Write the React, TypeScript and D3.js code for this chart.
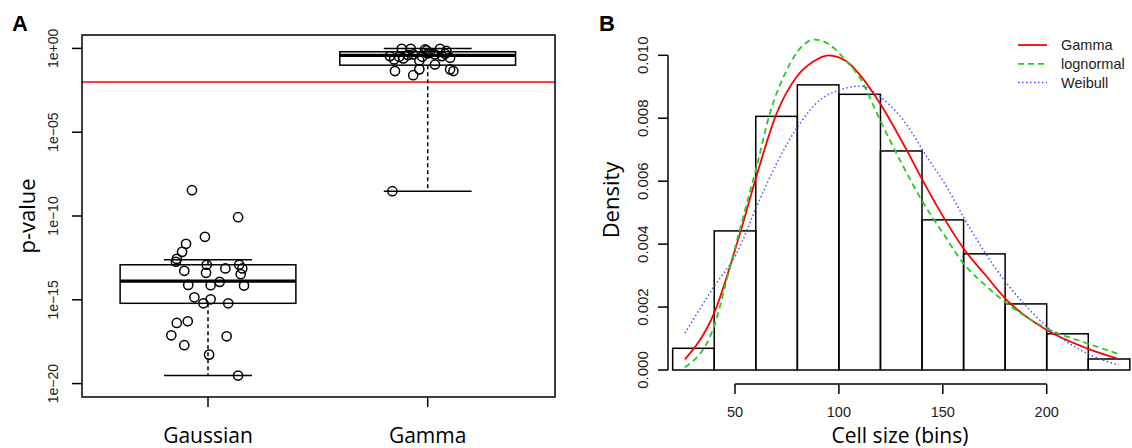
import React from "react";
import * as d3 from "d3";

// ---------- Panel A data ----------
const categories = ["Gaussian", "Gamma"];
// log10(p-value) summaries per category
const boxLowerWhisker = [-19.52, -8.52];
const boxQ1 = [-15.21, -1.0];
const boxMedian = [-13.89, -0.42];
const boxQ3 = [-12.91, -0.2];
const boxUpperWhisker = [-12.61, 0];
const thresholdP = 0.01;

const gaussianLogP = [
  -8.46, -10.07, -11.24, -11.66, -12.14, -12.56, -12.73, -12.91, -12.91, -13.27,
  -13.39, -13.13, -13.13, -13.47, -14.11, -14.13, -13.93, -14.15, -14.85, -14.97,
  -15.21, -15.21, -16.38, -16.28, -17.12, -17.18, -17.71, -18.27, -19.52,
];
const gaussianJitter = [
  -0.073, 0.137, -0.014, -0.1, -0.118, -0.142, -0.146, -0.006, 0.142, -0.108,
  -0.009, 0.079, 0.156, 0.149, -0.09, 0.012, 0.053, 0.164, -0.062, 0.012,
  -0.021, 0.092, -0.142, -0.092, -0.167, 0.085, -0.108, 0.005, 0.137,
];
const gammaLogP = [
  -0.02, -0.02, -0.06, -0.02, -0.46, -0.66, -0.6, -0.36, -0.72, -0.26,
  -0.36, -0.32, -0.56, -0.96, -1.35, -1.25, -1.6, -1.25, -1.35, -0.12,
  -0.46, -8.52, -0.4, -0.5, -0.3, -0.15, -0.5,
];
const gammaJitter = [
  -0.118, -0.077, -0.012, 0.056, -0.172, -0.153, -0.111, -0.066, -0.038, 0.01,
  0.033, 0.079, 0.102, 0.033, -0.149, -0.038, -0.066, 0.102, 0.117, -0.005,
  0.064, -0.161, -0.09, -0.025, 0.0, 0.085, -0.13,
];
const pTicks = [0, -5, -10, -15, -20];
const pTickLabels = ["1e+00", "1e\u221205", "1e\u221210", "1e\u221215", "1e\u221220"];

// ---------- Panel B data ----------
const binEdges = [20, 40, 60, 80, 100, 120, 140, 160, 180, 200, 220, 240];
const binDensity = [0.00069, 0.00442, 0.00806, 0.00906, 0.00876, 0.00696, 0.00477, 0.00369, 0.0021, 0.00115, 0.00035];
const xTicksB = [50, 100, 150, 200];
const yTicksB = [0, 0.002, 0.004, 0.006, 0.008, 0.01];
const yTickLabelsB = ["0.000", "0.002", "0.004", "0.006", "0.008", "0.010"];

const gammaCurveX = [25.9, 39.9, 52.4, 59.8, 70.1, 79.7, 87.7, 94.9, 103.8, 110.2, 119.8, 132.6, 139.8, 151.1, 159.9, 171.1, 180.8, 200, 219.3, 233.7];
const gammaCurveY = [0.00034, 0.0018, 0.00434, 0.00604, 0.00816, 0.00932, 0.0098, 0.01, 0.0098, 0.00937, 0.00847, 0.00699, 0.00609, 0.00477, 0.00387, 0.00297, 0.00222, 0.00127, 0.00069, 0.00037];
const lognormCurveX = [25.9, 39.9, 47.6, 54, 60.4, 66.8, 74.9, 82.9, 88.5, 95.7, 103.8, 110.2, 119.8, 129.4, 139.8, 150.2, 159.9, 169.5, 180.8, 200, 219.3, 234.5];
const lognormCurveY = [0.00009, 0.00138, 0.00328, 0.00487, 0.00646, 0.00816, 0.00953, 0.01033, 0.0105, 0.01033, 0.0098, 0.00927, 0.00794, 0.00667, 0.0054, 0.00434, 0.00339, 0.00275, 0.00212, 0.00132, 0.00085, 0.00051];
const weibullCurveX = [25.9, 39.9, 50.8, 60.4, 70.1, 81.3, 90.9, 100.5, 110.2, 119.8, 131, 142.3, 151.9, 159.9, 169.5, 180.8, 190.4, 200, 219.3, 234.5];
const weibullCurveY = [0.00117, 0.00265, 0.00371, 0.00519, 0.00657, 0.00784, 0.00858, 0.0089, 0.00902, 0.00868, 0.00794, 0.00678, 0.00582, 0.00487, 0.00381, 0.00275, 0.00201, 0.00138, 0.00053, 0.00016];
const legendNames = ["Gamma", "lognormal", "Weibull"];

const AXIS_FONT = "'Liberation Sans', Arial, sans-serif";
const TITLE_FONT = "'Open Sans', 'Noto Sans', sans-serif";

export default function App() {
  // Panel A scales
  const frameA = { left: 82, right: 555, top: 35, bottom: 397 };
  const xA = d3.scaleLinear().domain([1, 2]).range([208, 427.7]);
  const yA = d3.scaleLinear().domain([-20.8, 0.8]).range([frameA.bottom, frameA.top]);
  const boxHalf = 0.4;
  const capHalf = 0.2;

  // Panel B scales
  const xB = d3.scaleLinear().domain([50, 200]).range([735, 1046.7]);
  const yB = d3.scaleLinear().domain([0, 0.01]).range([370, 55.3]);
  const axisXB = 668;
  const axisYB = 384;

  const line = d3
    .line<[number, number]>()
    .x((d) => xB(d[0]))
    .y((d) => yB(d[1]))
    .curve(d3.curveMonotoneX);

  const curves = [
    { name: legendNames[0], xs: gammaCurveX, ys: gammaCurveY, color: "#ff0000", dash: "none", w: 1.8 },
    { name: legendNames[1], xs: lognormCurveX, ys: lognormCurveY, color: "#22cc22", dash: "6,4", w: 1.8 },
    { name: legendNames[2], xs: weibullCurveX, ys: weibullCurveY, color: "#4d4dff", dash: "1.5,2.5", w: 1.5 },
  ];

  const points = [
    { logp: gaussianLogP, jit: gaussianJitter },
    { logp: gammaLogP, jit: gammaJitter },
  ];

  return (
    <svg
      width={1132}
      height={448}
      style={{ position: "absolute", left: 0, top: 0, background: "#fff" }}
    >
      <rect width={1132} height={448} fill="#fff" />
      {/* Panel labels */}
      <text x={12} y={31} fontFamily={AXIS_FONT} fontWeight="bold" fontSize={22}>A</text>
      <text x={599} y={31} fontFamily={AXIS_FONT} fontWeight="bold" fontSize={22}>B</text>

      {/* ---------- Panel A ---------- */}
      <line x1={frameA.left} x2={frameA.right} y1={yA(Math.log10(thresholdP))} y2={yA(Math.log10(thresholdP))} stroke="#ff0000" strokeWidth={1.5} />
      {categories.map((c, i) => {
        const cx = i + 1;
        return (
          <g key={c}>
            {/* dashed whiskers */}
            <line x1={xA(cx)} x2={xA(cx)} y1={yA(boxQ1[i])} y2={yA(boxLowerWhisker[i])} stroke="#000" strokeWidth={1.5} strokeDasharray="4,3" />
            <line x1={xA(cx)} x2={xA(cx)} y1={yA(boxQ3[i])} y2={yA(boxUpperWhisker[i])} stroke="#000" strokeWidth={1.5} strokeDasharray="4,3" />
            <line x1={xA(cx - capHalf)} x2={xA(cx + capHalf)} y1={yA(boxLowerWhisker[i])} y2={yA(boxLowerWhisker[i])} stroke="#000" strokeWidth={1.5} />
            <line x1={xA(cx - capHalf)} x2={xA(cx + capHalf)} y1={yA(boxUpperWhisker[i])} y2={yA(boxUpperWhisker[i])} stroke="#000" strokeWidth={1.5} />
            <rect
              x={xA(cx - boxHalf)}
              y={yA(boxQ3[i])}
              width={xA(cx + boxHalf) - xA(cx - boxHalf)}
              height={yA(boxQ1[i]) - yA(boxQ3[i])}
              fill="none"
              stroke="#000"
              strokeWidth={1.5}
            />
            <line x1={xA(cx - boxHalf)} x2={xA(cx + boxHalf)} y1={yA(boxMedian[i])} y2={yA(boxMedian[i])} stroke="#000" strokeWidth={3.2} />
            {points[i].logp.map((v, j) => (
              <circle key={j} cx={xA(cx + points[i].jit[j])} cy={yA(v)} r={4.6} fill="none" stroke="#000" strokeWidth={1.5} />
            ))}
            {/* x tick + label */}
            <line x1={xA(cx)} x2={xA(cx)} y1={frameA.bottom} y2={frameA.bottom + 10} stroke="#000" strokeWidth={1.5} />
            <text x={xA(cx)} y={443} textAnchor="middle" fontFamily={TITLE_FONT} fontSize={21}>{c}</text>
          </g>
        );
      })}
      <rect x={frameA.left} y={frameA.top} width={frameA.right - frameA.left} height={frameA.bottom - frameA.top} fill="none" stroke="#000" strokeWidth={1.5} />
      {pTicks.map((t, i) => (
        <g key={t}>
          <line x1={frameA.left - 10} x2={frameA.left} y1={yA(t)} y2={yA(t)} stroke="#000" strokeWidth={1.5} />
          <text
            transform={`translate(${58},${yA(t)}) rotate(-90)`}
            textAnchor="middle"
            fontFamily={AXIS_FONT}
            fontSize={14}
            fill="#222"
          >
            {pTickLabels[i]}
          </text>
        </g>
      ))}
      <text transform={`translate(${35},${216}) rotate(-90)`} textAnchor="middle" fontFamily={TITLE_FONT} fontSize={22}>p-value</text>

      {/* ---------- Panel B ---------- */}
      {binDensity.map((d, i) => (
        <rect
          key={i}
          x={xB(binEdges[i])}
          y={yB(d)}
          width={xB(binEdges[i + 1]) - xB(binEdges[i])}
          height={yB(0) - yB(d)}
          fill="none"
          stroke="#000"
          strokeWidth={1.5}
        />
      ))}
      {curves.map((c) => (
        <path
          key={c.name}
          d={line(c.xs.map((x, i) => [x, c.ys[i]] as [number, number])) || ""}
          fill="none"
          stroke={c.color}
          strokeWidth={c.w}
          strokeDasharray={c.dash}
        />
      ))}
      {/* y axis */}
      <line x1={axisXB} x2={axisXB} y1={yB(0)} y2={yB(0.01)} stroke="#000" strokeWidth={1.5} />
      {yTicksB.map((t, i) => (
        <g key={t}>
          <line x1={axisXB - 10} x2={axisXB} y1={yB(t)} y2={yB(t)} stroke="#000" strokeWidth={1.5} />
          <text
            transform={`translate(${648},${yB(t)}) rotate(-90)`}
            textAnchor="middle"
            fontFamily={AXIS_FONT}
            fontSize={15}
            fill="#222"
          >
            {yTickLabelsB[i]}
          </text>
        </g>
      ))}
      <text transform={`translate(${619},${200}) rotate(-90)`} textAnchor="middle" fontFamily={TITLE_FONT} fontSize={22}>Density</text>
      {/* x axis */}
      <line x1={xB(50)} x2={xB(200)} y1={axisYB} y2={axisYB} stroke="#000" strokeWidth={1.5} />
      {xTicksB.map((t) => (
        <g key={t}>
          <line x1={xB(t)} x2={xB(t)} y1={axisYB} y2={axisYB + 10} stroke="#000" strokeWidth={1.5} />
          <text x={xB(t)} y={417} textAnchor="middle" fontFamily={AXIS_FONT} fontSize={14.5} fill="#222">{t}</text>
        </g>
      ))}
      <text x={900} y={443} textAnchor="middle" fontFamily={TITLE_FONT} fontSize={21}>Cell size (bins)</text>

      {/* legend */}
      {curves.map((c, i) => {
        const ly = 45 + i * 18.8;
        return (
          <g key={c.name}>
            <line x1={1018} x2={1047} y1={ly} y2={ly} stroke={c.color} strokeWidth={c.w} strokeDasharray={c.dash} />
            <text x={1061} y={ly + 5} fontFamily={AXIS_FONT} fontSize={14.5} fill="#222">{c.name}</text>
          </g>
        );
      })}
    </svg>
  );
}
